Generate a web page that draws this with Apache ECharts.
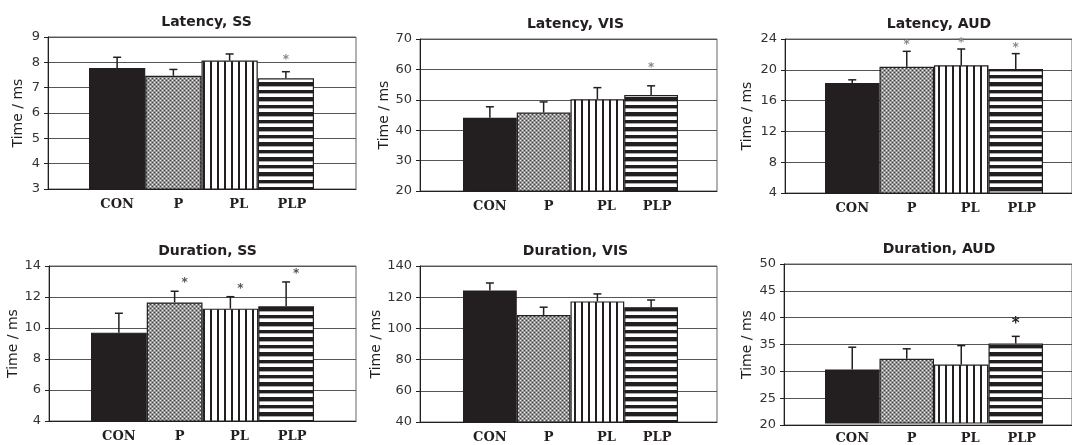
<!DOCTYPE html>
<html>
<head>
<meta charset="utf-8">
<script src="https://cdn.jsdelivr.net/npm/echarts@6/dist/echarts.min.js"></script>
<style>
html, body { margin: 0; background: #fff; }
#main { width: 1072px; height: 445px; }
</style>
</head>
<body>
<div id="main"></div>
<script>
var groups = ['CON', 'P', 'PL', 'PLP'];

// mean, upper error (SD) and significance flag for each panel
var latSSMean = [7.78, 7.47, 8.07, 7.37];
var latSSErr  = [0.42, 0.25, 0.26, 0.26];
var latSSSig  = [0, 0, 0, 1];

var latVISMean = [44.1, 45.8, 50.2, 51.6];
var latVISErr  = [3.6, 3.5, 3.8, 3.0];
var latVISSig  = [0, 0, 0, 1];

var latAUDMean = [18.3, 20.4, 20.6, 20.1];
var latAUDErr  = [0.4, 2.0, 2.1, 2.0];
var latAUDSig  = [0, 1, 1, 1];

var durSSMean = [9.7, 11.65, 11.25, 11.4];
var durSSErr  = [1.25, 0.72, 0.77, 1.57];
var durSSSig  = [0, 1, 1, 1];

var durVISMean = [124.3, 108.6, 117.3, 113.6];
var durVISErr  = [4.8, 5.0, 4.8, 4.6];
var durVISSig  = [0, 0, 0, 0];

var durAUDMean = [30.1, 32.1, 31.05, 35.0];
var durAUDErr  = [4.2, 1.9, 3.55, 1.35];
var durAUDSig  = [0, 0, 0, 1];

// y axis ticks: [min, max, interval]
var latSSTicks  = [3, 9, 1];
var latVISTicks = [20, 70, 10];
var latAUDTicks = [4, 24, 4];
var durSSTicks  = [4, 14, 2];
var durVISTicks = [40, 140, 20];
var durAUDTicks = [20, 50, 5];

var ink = '#231f20';

function pattern(w, h, draw) {
    var c = document.createElement('canvas');
    c.width = w;
    c.height = h;
    draw(c.getContext('2d'));
    return { image: c, repeat: 'repeat' };
}

// fills: solid, dotted grey, vertical stripes, horizontal stripes
var fills = [
    ink,
    pattern(4, 4, function(ctx) {
        ctx.fillStyle = '#959595';
        ctx.fillRect(0, 0, 4, 4);
        ctx.fillStyle = '#f0f0f0';
        ctx.fillRect(0, 0, 1, 1);
        ctx.fillRect(2, 2, 1, 1);
        ctx.fillStyle = '#444';
        ctx.fillRect(2, 0, 1, 1);
        ctx.fillRect(0, 2, 1, 1);
    }),
    pattern(7, 4, function(ctx) {
        ctx.fillStyle = '#fff';
        ctx.fillRect(0, 0, 7, 4);
        ctx.fillStyle = ink;
        ctx.fillRect(0, 0, 2, 4);
    }),
    pattern(4, 15, function(ctx) {
        ctx.fillStyle = '#fff';
        ctx.fillRect(0, 0, 4, 15);
        ctx.fillStyle = ink;
        ctx.fillRect(0, 0, 4, 3);
        ctx.fillRect(0, 7, 4, 4);
        ctx.fillStyle = '#aaa';
        ctx.fillRect(0, 3, 4, 1);
        ctx.fillRect(0, 11, 4, 1);
    })
];

var panels = [
    { title: 'Latency, SS',   mean: latSSMean,  err: latSSErr,  sig: latSSSig,  ticks: latSSTicks,
      left: 48,  right: 356,  top: 37,  bottom: 189, barL: 89,  barR: 314,  nameGap: 23, star: '#888', starDx: 0, starDy: 12, starSize: 12 },
    { title: 'Latency, VIS',  mean: latVISMean, err: latVISErr, sig: latVISSig, ticks: latVISTicks,
      left: 420, right: 717,  top: 39,  bottom: 191, barL: 463, barR: 678,  nameGap: 24, star: '#888', starDx: 0, starDy: 18, starSize: 12 },
    { title: 'Latency, AUD',  mean: latAUDMean, err: latAUDErr, sig: latAUDSig, ticks: latAUDTicks,
      left: 785, right: 1083, top: 39,  bottom: 193, barL: 825, barR: 1043, nameGap: 31, star: '#888', starDx: 0, starDy: 6,  starSize: 12 },
    { title: 'Duration, SS',  mean: durSSMean,  err: durSSErr,  sig: durSSSig,  ticks: durSSTicks,
      left: 49,  right: 356,  top: 266, bottom: 421, barL: 91,  barR: 314,  nameGap: 24, star: '#555', starDx: 10, starDy: 8, starSize: 12 },
    { title: 'Duration, VIS', mean: durVISMean, err: durVISErr, sig: durVISSig, ticks: durVISTicks,
      left: 420, right: 717,  top: 266, bottom: 422, barL: 463, barR: 678,  nameGap: 30, star: '#555', starDx: 0, starDy: 8,  starSize: 12 },
    { title: 'Duration, AUD', mean: durAUDMean, err: durAUDErr, sig: durAUDSig, ticks: durAUDTicks,
      left: 784, right: 1083, top: 264, bottom: 425, barL: 825, barR: 1043, nameGap: 30, star: ink,    starDx: 0, starDy: 12, starSize: 15 }
];

// the group labels sit a little right of the bar centres in the original
var labelFont = { fontSize: 13, fontWeight: 'bold', fontFamily: 'DejaVu Serif', color: ink };
var labelRich = {
    c0: labelFont,
    c1: Object.assign({ padding: [0, 0, 0, 10] }, labelFont),
    c2: Object.assign({ padding: [0, 0, 0, 18] }, labelFont),
    c3: Object.assign({ padding: [0, 0, 0, 12] }, labelFont)
};

var titles = [], grids = [], xAxes = [], yAxes = [], series = [];

panels.forEach(function(p, k) {
    var h = p.bottom - p.top;
    titles.push({
        text: p.title,
        left: (p.barL + p.barR) / 2,
        top: p.top - 27,
        textAlign: 'center',
        textStyle: { fontSize: 14, fontWeight: 'bold', fontFamily: 'DejaVu Sans', color: ink }
    });
    // frame grid with the y axis
    grids.push({ left: p.left, top: p.top, width: p.right - p.left, height: h,
                 show: true, borderColor: '#666', borderWidth: 1 });
    // bar grid
    grids.push({ left: p.barL, top: p.top, width: p.barR - p.barL, height: h });

    xAxes.push({
        gridIndex: 2 * k, type: 'value', min: 0, max: 1,
        axisLine: { show: true, onZero: false, lineStyle: { color: ink, width: 1 } },
        axisTick: { show: false }, axisLabel: { show: false }, splitLine: { show: false }
    });
    xAxes.push({
        gridIndex: 2 * k + 1, type: 'category', data: groups,
        axisLine: { show: false }, axisTick: { show: false },
        axisLabel: {
            margin: 9, interval: 0, hideOverlap: false,
            formatter: function(v, i) { return '{c' + i + '|' + v + '}'; },
            rich: labelRich
        }
    });
    yAxes.push({
        gridIndex: 2 * k, type: 'value',
        min: p.ticks[0], max: p.ticks[1], interval: p.ticks[2],
        name: 'Time / ms', nameLocation: 'middle', nameGap: p.nameGap,
        nameTextStyle: { fontSize: 14, fontFamily: 'DejaVu Sans', color: ink },
        axisLine: { show: true, lineStyle: { color: ink, width: 1 } },
        axisTick: { show: true, length: 4, lineStyle: { color: ink } },
        axisLabel: { margin: 8, fontSize: 13, fontFamily: 'DejaVu Sans', color: '#333' },
        splitLine: { show: true, lineStyle: { color: '#555', width: 1 } }
    });
    yAxes.push({
        gridIndex: 2 * k + 1, type: 'value', show: false,
        min: p.ticks[0], max: p.ticks[1], interval: p.ticks[2],
        splitLine: { show: false }
    });

    series.push({
        type: 'bar', xAxisIndex: 2 * k + 1, yAxisIndex: 2 * k + 1,
        barWidth: '100%', barGap: 0,
        itemStyle: { borderColor: ink, borderWidth: 1.2 },
        data: p.mean.map(function(v, i) {
            return { value: v, itemStyle: { color: fills[i] } };
        }),
        silent: true, z: 2
    });

    series.push({
        type: 'custom', xAxisIndex: 2 * k + 1, yAxisIndex: 2 * k + 1,
        encode: { x: 0, y: 1 }, z: 3, silent: true,
        data: p.mean.map(function(v, i) { return [i, v, p.err[i], p.sig[i]]; }),
        renderItem: function(params, api) {
            var base = api.coord([api.value(0), api.value(1)]);
            var top = api.coord([api.value(0), api.value(1) + api.value(2)]);
            var kids = [
                { type: 'line', shape: { x1: base[0], y1: base[1], x2: top[0], y2: top[1] },
                  style: { stroke: ink, lineWidth: 1.5 } },
                { type: 'line', shape: { x1: top[0] - 4, y1: top[1], x2: top[0] + 4, y2: top[1] },
                  style: { stroke: ink, lineWidth: 1.5 } }
            ];
            if (api.value(3)) {
                kids.push({
                    type: 'text', x: top[0] + p.starDx, y: top[1] - p.starDy,
                    style: { text: '*', fill: p.star, align: 'center', verticalAlign: 'middle',
                             font: 'bold ' + p.starSize + 'px DejaVu Sans' }
                });
            }
            return { type: 'group', children: kids };
        }
    });
});

var chart = echarts.init(document.getElementById('main'), null, { renderer: 'canvas' });
chart.setOption({
    animation: false,
    backgroundColor: '#fff',
    title: titles,
    grid: grids,
    xAxis: xAxes,
    yAxis: yAxes,
    series: series
});
</script>
</body>
</html>
